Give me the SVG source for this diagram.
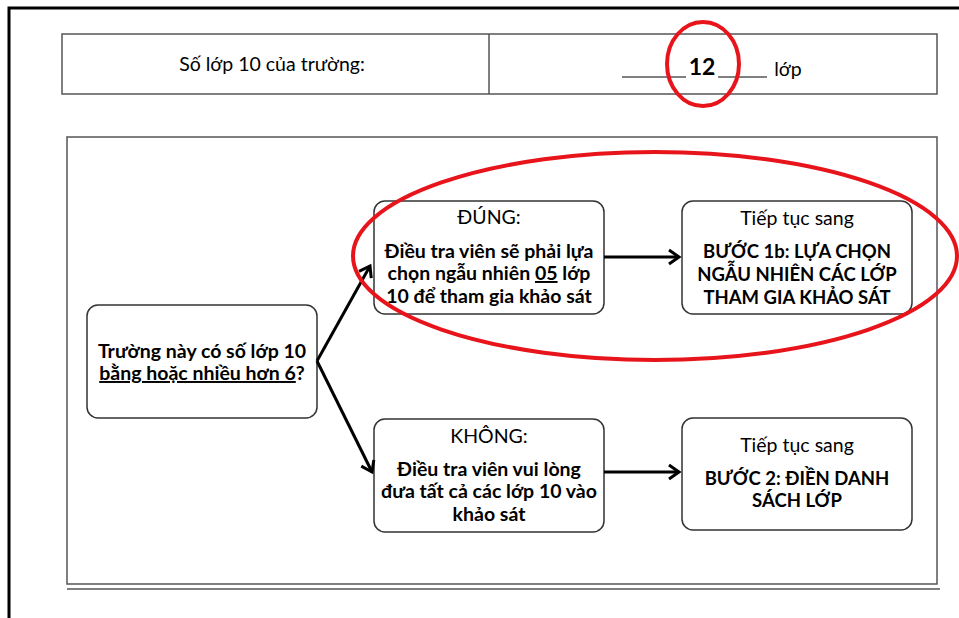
<svg xmlns="http://www.w3.org/2000/svg" width="959" height="618" viewBox="0 0 959 618">
<style>
text{font-family:Lato,"Open Sans","Liberation Sans",sans-serif;fill:#000;text-anchor:middle}
.n{font-size:19.5px}
.b{font-size:19.5px;font-weight:bold}
.c{font-size:18.5px;font-weight:bold}
.box{fill:#fff;stroke:#333;stroke-width:1.5}
.frame{fill:none;stroke:#555;stroke-width:1.5}
.con{stroke:#000;stroke-width:3;fill:none}
.red{fill:none;stroke:#e8141b;stroke-width:4}
</style>
<defs>
<marker id="arr" viewBox="0 0 12 16" refX="11" refY="8" markerWidth="12" markerHeight="16" markerUnits="userSpaceOnUse" orient="auto" overflow="visible">
<path d="M1,1 L11,8 L1,15" fill="none" stroke="#000" stroke-width="3"/>
</marker>
</defs>
<rect width="959" height="618" fill="#fff"/>
<path d="M9,618 V8 H959" fill="none" stroke="#000" stroke-width="3"/>
<g id="header">
<rect x="62" y="34" width="875" height="60" class="frame"/>
<line x1="489" y1="34" x2="489" y2="94" class="frame"/>
<text x="272" y="71" class="n">Số lớp 10 của trường:</text>
<line x1="622" y1="77" x2="686" y2="77" stroke="#000" stroke-width="1"/>
<text x="702" y="75" class="b" style="font-size:23px">12</text>
<line x1="718" y1="77" x2="767" y2="77" stroke="#000" stroke-width="1"/>
<text x="788" y="76" class="n">lớp</text>
</g>
<rect x="67" y="137" width="870" height="447" class="frame"/>
<line x1="67" y1="589" x2="940" y2="589" class="frame"/>
<g id="q">
<rect x="87" y="305" width="230" height="113" rx="11" class="box"/>
<text x="202" y="358" class="b">Trường này có số lớp 10</text>
<text x="202" y="380" class="b"><tspan text-decoration="underline">bằng hoặc nhiều hơn 6</tspan>?</text>
</g>
<g id="dung">
<rect x="374" y="201" width="230" height="113" rx="11" class="box"/>
<text x="489" y="224" class="n">ĐÚNG:</text>
<text x="489" y="258" class="b">Điều tra viên sẽ phải lựa</text>
<text x="489" y="280" class="b">chọn ngẫu nhiên <tspan text-decoration="underline">05</tspan> lớp</text>
<text x="489" y="303" class="b">10 để tham gia khảo sát</text>
</g>
<g id="next1">
<rect x="682" y="201" width="230" height="113" rx="11" class="box"/>
<text x="797" y="225" class="n">Tiếp tục sang</text>
<text x="797" y="258" class="c">BƯỚC 1b: LỰA CHỌN</text>
<text x="797" y="281" class="c">NGẪU NHIÊN CÁC LỚP</text>
<text x="797" y="304" class="c">THAM GIA KHẢO SÁT</text>
</g>
<g id="khong">
<rect x="374" y="419" width="230" height="113" rx="11" class="box"/>
<text x="489" y="443" class="n">KHÔNG:</text>
<text x="489" y="476" class="b">Điều tra viên vui lòng</text>
<text x="489" y="498" class="b">đưa tất cả các lớp 10 vào</text>
<text x="489" y="521" class="b">khảo sát</text>
</g>
<g id="next2">
<rect x="682" y="418" width="230" height="112" rx="11" class="box"/>
<text x="797" y="452" class="n">Tiếp tục sang</text>
<text x="797" y="485" class="c">BƯỚC 2: ĐIỀN DANH</text>
<text x="797" y="507" class="c">SÁCH LỚP</text>
</g>
<g id="connectors">
<line x1="317" y1="361" x2="370" y2="266" class="con" marker-end="url(#arr)"/>
<line x1="317" y1="361" x2="372" y2="472" class="con" marker-end="url(#arr)"/>
<line x1="604" y1="257" x2="679" y2="257" class="con" marker-end="url(#arr)"/>
<line x1="604" y1="472" x2="679" y2="472" class="con" marker-end="url(#arr)"/>
</g>
<g id="highlights">
<ellipse cx="703" cy="64" rx="36" ry="42" class="red"/>
<ellipse cx="655" cy="256" rx="302" ry="104" class="red"/>
</g>
</svg>
